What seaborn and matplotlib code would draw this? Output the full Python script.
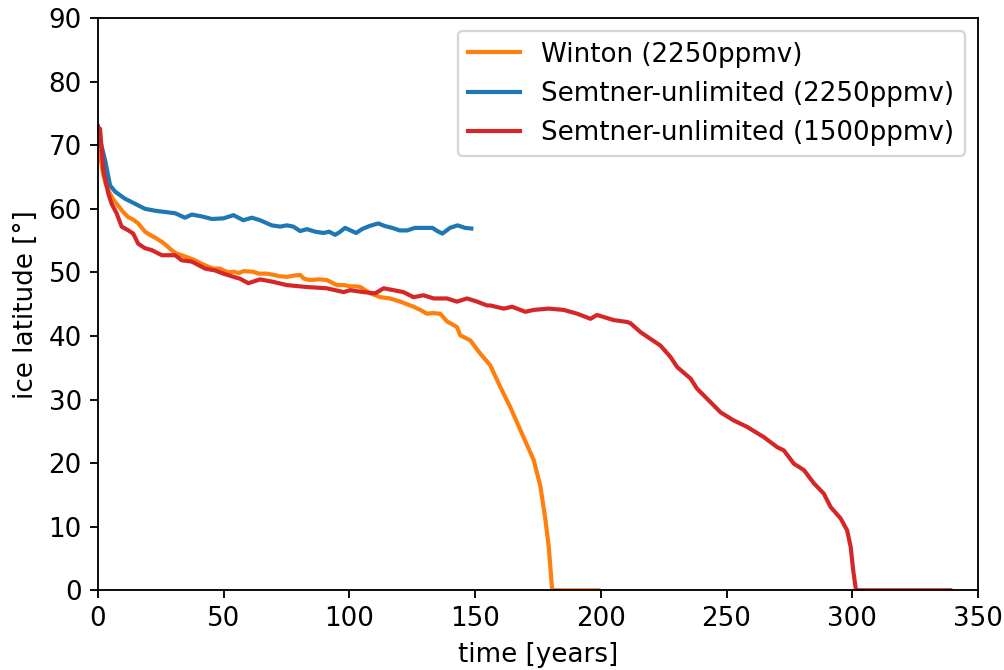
import pandas as pd
import numpy as np
import matplotlib
matplotlib.use('Agg')
import matplotlib.pyplot as plt
import seaborn as sns

plt.rcParams['font.size'] = 11.3

# Winton (2250ppmv)
winton_t = [0, 1, 2, 3, 4, 6, 8, 10, 12, 14, 16, 18.7, 20.7, 23, 25.4, 27, 29.3, 31, 33.3, 36,
            38.6, 41, 43.8, 46, 48.6, 50, 52, 53.9, 56, 58, 61.7, 64, 67.2, 70, 72, 75.1, 78,
            80.4, 82, 84.4, 88, 91, 95, 98, 100.3, 103, 104.3, 108.3, 112.3, 116.2, 120.2,
            125.5, 128.2, 130.8, 133, 136.1, 138.8, 142.8, 144.1, 148.1, 152.1, 156, 160, 164,
            168, 173.3, 176, 178, 179.3, 180.6, 181, 190, 199]
winton_lat = [72, 68, 65.5, 64, 63, 61.5, 60.5, 59.5, 58.7, 58.3, 57.7, 56.4, 55.9, 55.4, 54.8,
              54.3, 53.5, 53.0, 52.7, 52.3, 51.9, 51.4, 50.9, 50.6, 50.6, 50.3, 50.0, 50.1, 49.9,
              50.2, 50.1, 49.8, 49.8, 49.6, 49.4, 49.3, 49.5, 49.6, 49.0, 48.8, 48.9, 48.8, 48.0,
              48.0, 47.8, 47.8, 47.7, 46.7, 46.1, 45.9, 45.4, 44.6, 44.1, 43.5, 43.6, 43.5, 42.3,
              41.4, 40.1, 39.3, 37.2, 35.4, 32.0, 28.8, 25.2, 20.5, 16.3, 11.0, 6.8, 0.3, 0, 0, 0]

# Semtner-unlimited (2250ppmv)
semt2250_t = [0, 1, 2.8, 4.8, 6.8, 10.7, 14.7, 18.7, 22.7, 26.7, 30.7, 34.6, 37.3, 41.3, 45.3,
              49.9, 53.9, 57.8, 61.2, 64.5, 69.1, 72.5, 75.1, 77.7, 80.4, 83.1, 86.4, 89.7, 92,
              94.3, 96, 98.3, 101, 102.7, 105, 108, 111.5, 114, 117, 120, 123, 126, 130, 133,
              135, 137, 140, 143, 146, 148.5]
semt2250_lat = [73, 70.5, 67.7, 63.7, 62.7, 61.6, 60.8, 60.0, 59.7, 59.5, 59.3, 58.6, 59.1, 58.8,
                58.4, 58.5, 59.0, 58.2, 58.6, 58.2, 57.4, 57.2, 57.4, 57.2, 56.5, 56.8, 56.4,
                56.2, 56.4, 55.9, 56.3, 57.0, 56.5, 56.2, 56.8, 57.3, 57.7, 57.3, 57.0, 56.6,
                56.6, 57.0, 57.0, 57.0, 56.5, 56.1, 57.0, 57.4, 57.0, 56.9]

# Semtner-unlimited (1500ppmv)
semt1500_t = [0, 0.8, 2.1, 4.1, 5.4, 7.4, 9.4, 12.1, 14, 16, 18.7, 21.4, 25.4, 30.7, 33.3, 37.3,
              42.6, 46.6, 49.9, 53.9, 56.5, 59.8, 64.5, 69.8, 75.1, 83.1, 91, 97.7, 100.3, 105.6,
              110.3, 113.6, 117.6, 121.5, 125.5, 129.5, 133.5, 138.8, 142.8, 146.8, 150.8, 154.7,
              156, 161.4, 164.7, 170, 173.3, 179.3, 185.2, 190.6, 195.9, 198.5, 205.1, 210.5,
              211.8, 215.8, 218.4, 223.7, 227.7, 230.4, 235.7, 238.3, 243.6, 247.6, 252.9, 258.2,
              264.8, 267.5, 270.2, 272.8, 276.8, 280.8, 284.8, 288.7, 291.4, 295.4, 298, 299.4,
              300.4, 301.4, 302, 320, 339]
semt1500_lat = [72.8, 72.6, 66.1, 62.4, 60.8, 59.3, 57.2, 56.6, 56.1, 54.5, 53.8, 53.5, 52.7, 52.7,
                51.9, 51.7, 50.6, 50.3, 49.8, 49.3, 49.0, 48.3, 48.9, 48.5, 48.0, 47.7, 47.5,
                46.9, 47.2, 46.9, 46.7, 47.5, 47.2, 46.9, 46.1, 46.4, 45.9, 45.9, 45.4, 45.9,
                45.4, 44.8, 44.8, 44.3, 44.6, 43.8, 44.1, 44.3, 44.1, 43.5, 42.7, 43.3, 42.5,
                42.2, 42.0, 40.6, 39.9, 38.5, 36.7, 35.1, 33.3, 31.7, 29.6, 28.0, 26.7, 25.7,
                24.1, 23.3, 22.5, 22.0, 19.9, 18.9, 16.8, 15.2, 13.1, 11.3, 9.4, 6.8, 3.1, 0.3,
                0, 0, 0]

runs = ['Winton (2250ppmv)', 'Semtner-unlimited (2250ppmv)', 'Semtner-unlimited (1500ppmv)']
colors = ['#ff7f0e', '#1f77b4', '#d62728']

df = pd.concat([
    pd.DataFrame({'t': winton_t, 'lat': winton_lat, 'run': runs[0]}),
    pd.DataFrame({'t': semt2250_t, 'lat': semt2250_lat, 'run': runs[1]}),
    pd.DataFrame({'t': semt1500_t, 'lat': semt1500_lat, 'run': runs[2]}),
], ignore_index=True)

fig, ax = plt.subplots(figsize=(6.024, 4.02), dpi=166.67)
fig.subplots_adjust(left=0.0976, right=0.974, top=0.973, bottom=0.119)

sns.lineplot(data=df, x='t', y='lat', hue='run', hue_order=runs,
             palette=dict(zip(runs, colors)), estimator=None, sort=False,
             linewidth=1.8, ax=ax)

ax.set_xlim(0, 350)
ax.set_ylim(0, 90)
ax.set_xlabel('time [years]')
ax.set_ylabel('ice latitude [°]')
handles, labels = ax.get_legend_handles_labels()
ax.legend(handles, labels, loc='upper right')

fig.savefig('out.png', dpi=166.67)
